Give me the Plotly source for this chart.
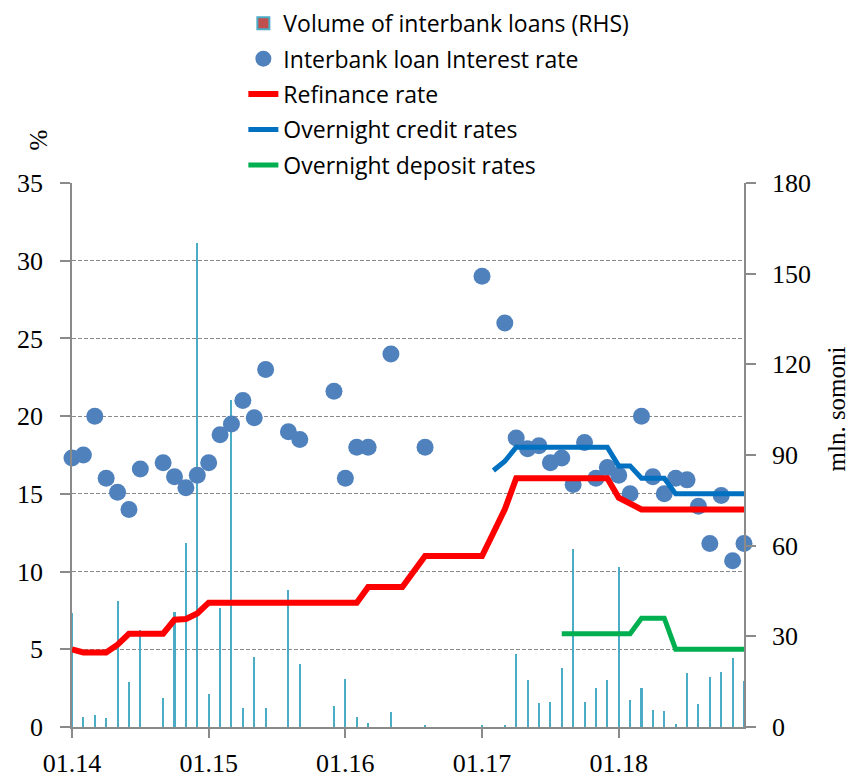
import plotly.graph_objects as go

months = [f"{m:02d}.{y}" for y in range(14, 19) for m in range(1, 13)]
year_ticks = ["01.14", "01.15", "01.16", "01.17", "01.18"]

N = None
volume = [37.6, 3.2, 4.1, 3.0, 41.6, 15.0, 32.2, N, 9.7, 38.1, 60.8, 160.2,
          11.0, 39.3, 108.2, 6.3, 23.2, 6.3, N, 45.2, 20.7, N, N, 7.0,
          16.0, 3.3, 1.3, N, 4.9, N, N, 0.5, N, N, N, N,
          0.5, N, 0.8, 24.1, 15.5, 8.0, 8.4, 19.5, 59.0, 8.2, 12.9, 15.4,
          52.9, 8.8, 12.9, 5.6, 5.3, 1.1, 17.8, 7.6, 16.6, 18.1, 22.7, 15.1]

interbank_rate = [17.3, 17.5, 20.0, 16.0, 15.1, 14.0, 16.6, N, 17.0, 16.1, 15.4, 16.2,
                  17.0, 18.8, 19.5, 21.0, 19.9, 23.0, N, 19.0, 18.5, N, N, 21.6,
                  16.0, 18.0, 18.0, N, 24.0, N, N, 18.0, N, N, N, N,
                  29.0, N, 26.0, 18.6, 17.9, 18.1, 17.0, 17.3, 15.6, 18.3, 16.0, 16.7,
                  16.2, 15.0, 20.0, 16.1, 15.0, 16.0, 15.9, 14.2, 11.8, 14.9, 10.7, 11.8]

refinance_rate = [5.0, 4.8, 4.8, 4.8, 5.3, 6.0, 6.0, 6.0, 6.0, 6.9, 6.95, 7.3,
                  8.0, 8.0, 8.0, 8.0, 8.0, 8.0, 8.0, 8.0, 8.0, 8.0, 8.0, 8.0,
                  8.0, 8.0, 9.0, 9.0, 9.0, 9.0, 10.0, 11.0, 11.0, 11.0, 11.0, 11.0,
                  11.0, 12.5, 14.0, 16.0, 16.0, 16.0, 16.0, 16.0, 16.0, 16.0, 16.0, 16.0,
                  14.75, 14.4, 14.0, 14.0, 14.0, 14.0, 14.0, 14.0, 14.0, 14.0, 14.0, 14.0]

overnight_credit = [N] * 37 + [16.5, 17.1, 18.0, 18.0, 18.0, 18.0, 18.0, 18.0, 18.0, 18.0, 18.0,
                               16.8, 16.8, 16.0, 16.0, 16.0, 15.0, 15.0, 15.0, 15.0, 15.0, 15.0, 15.0]

overnight_deposit = [N] * 43 + [6.0, 6.0, 6.0, 6.0, 6.0, 6.0, 6.0,
                                7.0, 7.0, 7.0, 5.0, 5.0, 5.0, 5.0, 5.0, 5.0, 5.0]

AXIS_GREY = "#8a8a8a"
TICK_FONT = dict(family="Liberation Serif, Times New Roman, serif", size=26, color="#000000")
TITLE_FONT = dict(family="Liberation Serif, Times New Roman, serif", size=25, color="#000000")
LEG_FONT = dict(family="Open Sans, Noto Sans, sans-serif", size=23, color="#000000")

fig = go.Figure()

# legend entry for the volume bars (red fill with light-blue border, as in the source)
fig.add_trace(go.Bar(x=[None], y=[None], name="Volume of interbank loans (RHS)",
                     marker=dict(color="#C0504D", line=dict(color="#4BACC6", width=2)),
                     legendgroup="g1", yaxis="y"))
# actual volume bars (very thin, so they read as light-blue lines)
fig.add_trace(go.Bar(x=months, y=volume, width=0.18, showlegend=False,
                     marker=dict(color="#4BACC6", line=dict(width=0)),
                     yaxis="y", hoverinfo="x+y"))

fig.add_trace(go.Scatter(x=months, y=interbank_rate, mode="markers",
                         name="Interbank loan Interest rate",
                         marker=dict(color="#4F81BD", size=17),
                         legendgroup="g2", yaxis="y2", cliponaxis=False))
fig.add_trace(go.Scatter(x=months, y=refinance_rate, mode="lines", name="Refinance rate",
                         line=dict(color="#FF0000", width=6),
                         legendgroup="g3", yaxis="y2"))
fig.add_trace(go.Scatter(x=months, y=overnight_credit, mode="lines",
                         name="Overnight credit rates",
                         line=dict(color="#0070C0", width=5),
                         legendgroup="g4", yaxis="y2"))
fig.add_trace(go.Scatter(x=months, y=overnight_deposit, mode="lines",
                         name="Overnight deposit rates",
                         line=dict(color="#00B050", width=5),
                         legendgroup="g5", yaxis="y2"))

# the page body adds an 8px margin, so the figure is 8px smaller on each axis
fig.update_layout(
    width=852, height=772,
    margin=dict(l=64, r=116, t=175, b=53, autoexpand=False),
    paper_bgcolor="white", plot_bgcolor="white",
    bargap=0,
    showlegend=True,
    legend=dict(x=0.255, y=1.333, xanchor="left", yanchor="top",
                font=LEG_FONT, traceorder="grouped", tracegroupgap=2.5,
                bgcolor="rgba(0,0,0,0)"),
    xaxis=dict(type="category", categoryorder="array", categoryarray=months,
               range=[0, 59], autorange=False,
               tickmode="array", tickvals=year_ticks, ticktext=year_ticks,
               ticks="outside", ticklen=9, tickwidth=1.5, tickcolor=AXIS_GREY,
               showline=True, linecolor=AXIS_GREY, linewidth=1.5,
               showgrid=False, zeroline=False, tickfont=TICK_FONT,
               ticklabelstandoff=3),
    yaxis=dict(side="right", range=[0, 180], autorange=False, dtick=30, tick0=0,
               ticks="outside", ticklen=10, tickwidth=1.5, tickcolor=AXIS_GREY,
               showline=True, linecolor=AXIS_GREY, linewidth=1.5,
               showgrid=False, zeroline=False, tickfont=TICK_FONT,
               ticklabelstandoff=11),
    yaxis2=dict(side="left", overlaying="y", range=[0, 35], autorange=False,
                dtick=5, tick0=0,
                ticks="outside", ticklen=10, tickwidth=1.5, tickcolor=AXIS_GREY,
                showline=True, linecolor=AXIS_GREY, linewidth=1.5,
                showgrid=True, gridcolor=AXIS_GREY, gridwidth=1.3, griddash="4px,2px",
                zeroline=False, tickfont=TICK_FONT, ticklabelstandoff=12),
    annotations=[
        dict(text="%", xref="paper", yref="paper", x=-0.05, y=1.079,
             xanchor="center", yanchor="middle",
             showarrow=False, textangle=-90, font=TITLE_FONT),
        dict(text="mln. somoni", xref="paper", yref="paper", x=1.138, y=0.585,
             xanchor="center", yanchor="middle",
             showarrow=False, textangle=-90, font=TITLE_FONT),
    ],
)

fig.write_html("out.html")
